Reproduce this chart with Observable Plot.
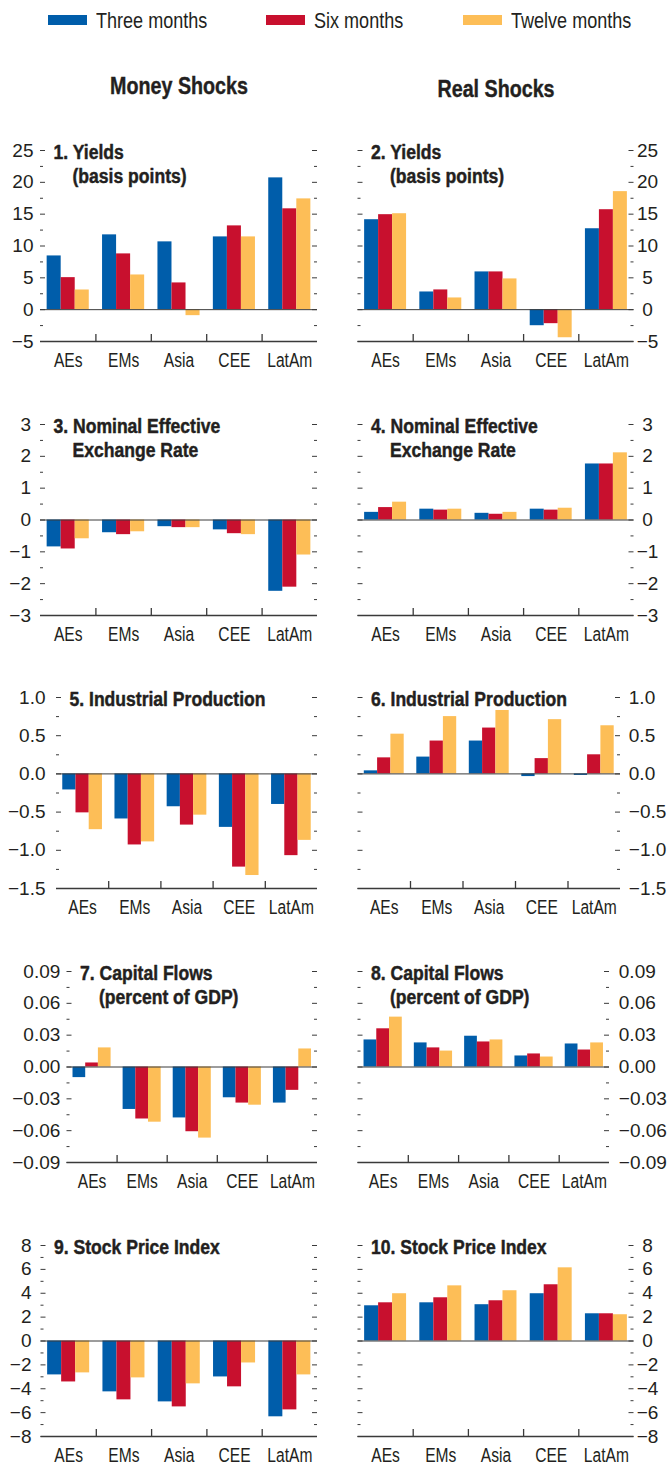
<!DOCTYPE html>
<html>
<head>
<meta charset="utf-8">
<script src="https://cdn.jsdelivr.net/npm/d3@7"></script>
<script src="https://cdn.jsdelivr.net/npm/@observablehq/plot@0.6"></script>
<style>
  body { margin: 0; background: #fff; }
  #page { position: relative; width: 669px; height: 1467px; overflow: hidden; color: #231f20; }
  .sw { position: absolute; top: 15px; width: 39px; height: 9.5px; }
  .lg { position: absolute; top: 8px; font-size: 22px; line-height: 26px; white-space: nowrap;
        font-family: "Liberation Sans", Arial, sans-serif; transform: scaleX(0.82); transform-origin: 0 50%; }
  .hd { position: absolute; font-weight: bold; font-size: 24px; line-height: 28px; white-space: nowrap;
        transform: translateX(-50%) scaleX(0.82); transform-origin: 50% 50%;
        -webkit-text-stroke: 0.4px #231f20;
        font-family: "Liberation Sans", Arial, sans-serif; }
  .pn { position: absolute; }
  .pn svg { overflow: visible; }
</style>
</head>
<body>
<div id="page"></div>
<script>
const categories = ["AEs", "EMs", "Asia", "CEE", "LatAm"];
const series = ["Three months", "Six months", "Twelve months"];
const colors = ["#005daa", "#c8102e", "#fdbe57"];

// values: [three months, six months, twelve months], each over categories
const yieldsMoney = [[8.44, 11.75, 10.65, 11.43, 20.7], [5.03, 8.76, 4.2, 13.16, 15.84], [3.09, 5.45, -0.94, 11.43, 17.4]];
const yieldsReal  = [[14.13, 2.78, 5.93, -2.52, 12.71], [14.92, 3.1, 5.93, -2.2, 15.7], [15.07, 1.84, 4.83, -4.41, 18.54]];
const neerMoney   = [[-0.845, -0.40, -0.21, -0.31, -2.24], [-0.91, -0.46, -0.24, -0.43, -2.11], [-0.59, -0.37, -0.24, -0.46, -1.10]];
const neerReal    = [[0.24, 0.34, 0.21, 0.34, 1.76], [0.39, 0.31, 0.18, 0.31, 1.76], [0.56, 0.34, 0.24, 0.37, 2.11]];
const ipMoney     = [[-0.21, -0.59, -0.43, -0.70, -0.40], [-0.51, -0.93, -0.67, -1.22, -1.07], [-0.73, -0.89, -0.54, -1.33, -0.87]];
const ipReal      = [[0.04, 0.22, 0.43, -0.035, -0.02], [0.21, 0.43, 0.60, 0.20, 0.25], [0.52, 0.75, 0.83, 0.71, 0.63]];
const cfMoney     = [[-0.010, -0.040, -0.048, -0.029, -0.034], [0.0038, -0.049, -0.061, -0.034, -0.022], [0.018, -0.052, -0.067, -0.036, 0.017]];
const cfReal      = [[0.0255, 0.0227, 0.029, 0.0104, 0.0217], [0.036, 0.018, 0.0236, 0.0123, 0.016], [0.047, 0.015, 0.0255, 0.0094, 0.0227]];
const spMoney     = [[-2.84, -4.26, -5.10, -3.01, -6.35], [-3.43, -4.93, -5.52, -3.84, -5.77], [-2.67, -3.09, -3.59, -1.84, -2.84]];
const spReal      = [[2.95, 3.20, 3.04, 3.96, 2.28], [3.20, 3.62, 3.37, 4.71, 2.28], [3.96, 4.62, 4.21, 6.13, 2.20]];

// tick labels
const ticksYields = [-5, 0, 5, 10, 15, 20, 25];
const minorYields = [-2.5, 2.5, 7.5, 12.5, 17.5, 22.5];
const ticksNeer = [-3, -2, -1, 0, 1, 2, 3];
const minorNeer = [-2.5, -1.5, -0.5, 0.5, 1.5, 2.5];
const ticksIP = [-1.5, -1, -0.5, 0, 0.5, 1];
const minorIP = [-1.25, -0.75, -0.25, 0.25, 0.75];
const ticksCF = [-0.09, -0.06, -0.03, 0, 0.03, 0.06, 0.09];
const minorCF = [-0.075, -0.045, -0.015, 0.015, 0.045, 0.075];
const ticksSP = [-8, -6, -4, -2, 0, 2, 4, 6, 8];
const minorSP = [-7, -5, -3, -1, 1, 3, 5, 7];

const sansFont = '"Liberation Sans", Arial, sans-serif';
const ink = "#231f20";
const lineCol = "#3a3a3a";

const page = document.getElementById("page");

// legend
const legendPos = [48, 266, 463];
series.forEach((s, i) => {
  const sw = document.createElement("div");
  sw.className = "sw"; sw.style.left = legendPos[i] + "px"; sw.style.background = colors[i];
  page.appendChild(sw);
  const t = document.createElement("div");
  t.className = "lg"; t.style.left = (legendPos[i] + 48) + "px"; t.textContent = s;
  page.appendChild(t);
});
[["Money Shocks", 178.5, 72], ["Real Shocks", 496, 75]].forEach(([txt, x, y]) => {
  const h = document.createElement("div");
  h.className = "hd"; h.style.left = x + "px"; h.style.top = y + "px"; h.textContent = txt;
  page.appendChild(h);
});

const outerPad = 0.12;
const bw = (1 - 2 * outerPad) / 3;

function panel(cfg) {
  const {values, domain, ticks, minor, fmt, side, mL, mR, pad, anchor, line1, line2} = cfg;
  const W = side === "left" ? 335 : 334, H = 274, mT = 20, mB = 63;
  const pw = W - mL - mR, ph = H - mT - mB;
  const rows = [];
  series.forEach((s, j) => categories.forEach((c, i) => rows.push({c, i, s, j, v: values[j][i]})));
  const titleStyle = {text: d => d, frameAnchor: "top-left", textAnchor: "start", lineAnchor: "top",
                      fontWeight: "bold", fontSize: 19.5, fill: ink, stroke: ink, strokeWidth: 0.45, className: "ttl"};
  const marks = [
    Plot.rect(rows, {
      x1: d => d.i + outerPad + d.j * bw,
      x2: d => d.i + outerPad + (d.j + 1) * bw,
      y1: 0, y2: "v", fill: "s"
    }),
    Plot.ruleY([0], {stroke: lineCol, strokeWidth: 1}),
    Plot.ruleY([domain[0]], {stroke: lineCol, strokeWidth: 1.6}),
    Plot.ruleX([1, 2, 3, 4], {insetTop: ph - 7, stroke: lineCol, strokeWidth: 1.3}),
    Plot.ruleY(ticks, {insetRight: pw - 5, stroke: lineCol, strokeWidth: 1}),
    Plot.ruleY(ticks, {insetLeft: pw - 5, stroke: lineCol, strokeWidth: 1}),
    Plot.ruleY(minor, {insetRight: pw - 3, stroke: lineCol, strokeWidth: 1}),
    Plot.ruleY(minor, {insetLeft: pw - 3, stroke: lineCol, strokeWidth: 1}),
    Plot.axisY({anchor: side, ticks, tickFormat: fmt, tickSize: 0, tickPadding: pad, textAnchor: anchor,
                fontSize: 19, label: null}),
    Plot.axisX({ticks: [0.5, 1.5, 2.5, 3.5, 4.5], tickFormat: t => categories[Math.floor(t)],
                tickSize: 0, tickPadding: 12, fontSize: 19.5, label: null, className: "cat"}),
    Plot.text([line1], {...titleStyle, dx: 13, dy: -5})
  ];
  if (line2) marks.push(Plot.text([line2], {...titleStyle, dx: 32, dy: 19}));
  return Plot.plot({
    width: W, height: H, marginTop: mT, marginBottom: mB, marginLeft: mL, marginRight: mR,
    style: {fontFamily: sansFont, color: ink, background: "transparent"},
    x: {type: "linear", domain: [0, 5], label: null},
    y: {domain, label: null},
    color: {domain: series, range: colors},
    marks
  });
}

// condense text glyphs horizontally (the original uses a condensed face)
function condense(svg, selector, k) {
  svg.querySelectorAll(selector).forEach(t => {
    const L = t.getComputedTextLength();
    if (L > 0) {
      t.setAttribute("textLength", (L * k).toFixed(2));
      t.setAttribute("lengthAdjust", "spacingAndGlyphs");
    }
  });
}

const fInt = d3.format("d"), f1 = d3.format(".1f"), f2 = d3.format(".2f");
const rowTops = [130, 404, 677, 951, 1225];

const panels = [
  {values: yieldsMoney, domain: [-5, 25], ticks: ticksYields, minor: minorYields, fmt: fInt, side: "left", mL: 40, mR: 18, pad: 7, anchor: "end", line1: "1. Yields", line2: "(basis points)", row: 0},
  {values: yieldsReal, domain: [-5, 25], ticks: ticksYields, minor: minorYields, fmt: fInt, side: "right", mL: 22.5, mR: 35.5, pad: 13.5, anchor: "middle", line1: "2. Yields", line2: "(basis points)", row: 0},
  {values: neerMoney, domain: [-3, 3], ticks: ticksNeer, minor: minorNeer, fmt: fInt, side: "left", mL: 40, mR: 18, pad: 9.5, anchor: "end", line1: "3. Nominal Effective", line2: "Exchange Rate", row: 1},
  {values: neerReal, domain: [-3, 3], ticks: ticksNeer, minor: minorNeer, fmt: fInt, side: "right", mL: 22.5, mR: 35.5, pad: 13.5, anchor: "middle", line1: "4. Nominal Effective", line2: "Exchange Rate", row: 1},
  {values: ipMoney, domain: [-1.5, 1], ticks: ticksIP, minor: minorIP, fmt: f1, side: "left", mL: 56, mR: 18, pad: 11, anchor: "end", line1: "5. Industrial Production", row: 2},
  {values: ipReal, domain: [-1.5, 1], ticks: ticksIP, minor: minorIP, fmt: f1, side: "right", mL: 22.5, mR: 49, pad: 8.3, anchor: "start", line1: "6. Industrial Production", row: 2},
  {values: cfMoney, domain: [-0.09, 0.09], ticks: ticksCF, minor: minorCF, fmt: f2, side: "left", mL: 66.5, mR: 18, pad: 6.7, anchor: "end", line1: "7. Capital Flows", line2: "(percent of GDP)", row: 3},
  {values: cfReal, domain: [-0.09, 0.09], ticks: ticksCF, minor: minorCF, fmt: f2, side: "right", mL: 22.5, mR: 60, pad: 9.3, anchor: "start", line1: "8. Capital Flows", line2: "(percent of GDP)", row: 3},
  {values: spMoney, domain: [-8, 8], ticks: ticksSP, minor: minorSP, fmt: fInt, side: "left", mL: 40.5, mR: 18, pad: 9.5, anchor: "end", line1: "9. Stock Price Index", row: 4},
  {values: spReal, domain: [-8, 8], ticks: ticksSP, minor: minorSP, fmt: fInt, side: "right", mL: 22.5, mR: 35.5, pad: 13.5, anchor: "middle", line1: "10. Stock Price Index", row: 4}
];

panels.forEach(cfg => {
  const wrap = document.createElement("div");
  wrap.className = "pn";
  wrap.style.left = (cfg.side === "left" ? 0 : 335) + "px";
  wrap.style.top = rowTops[cfg.row] + "px";
  const svg = panel(cfg);
  wrap.appendChild(svg);
  page.appendChild(wrap);
  condense(svg, ".cat text", 0.8);
  condense(svg, ".ttl text", 0.9);
});
</script>
</body>
</html>
